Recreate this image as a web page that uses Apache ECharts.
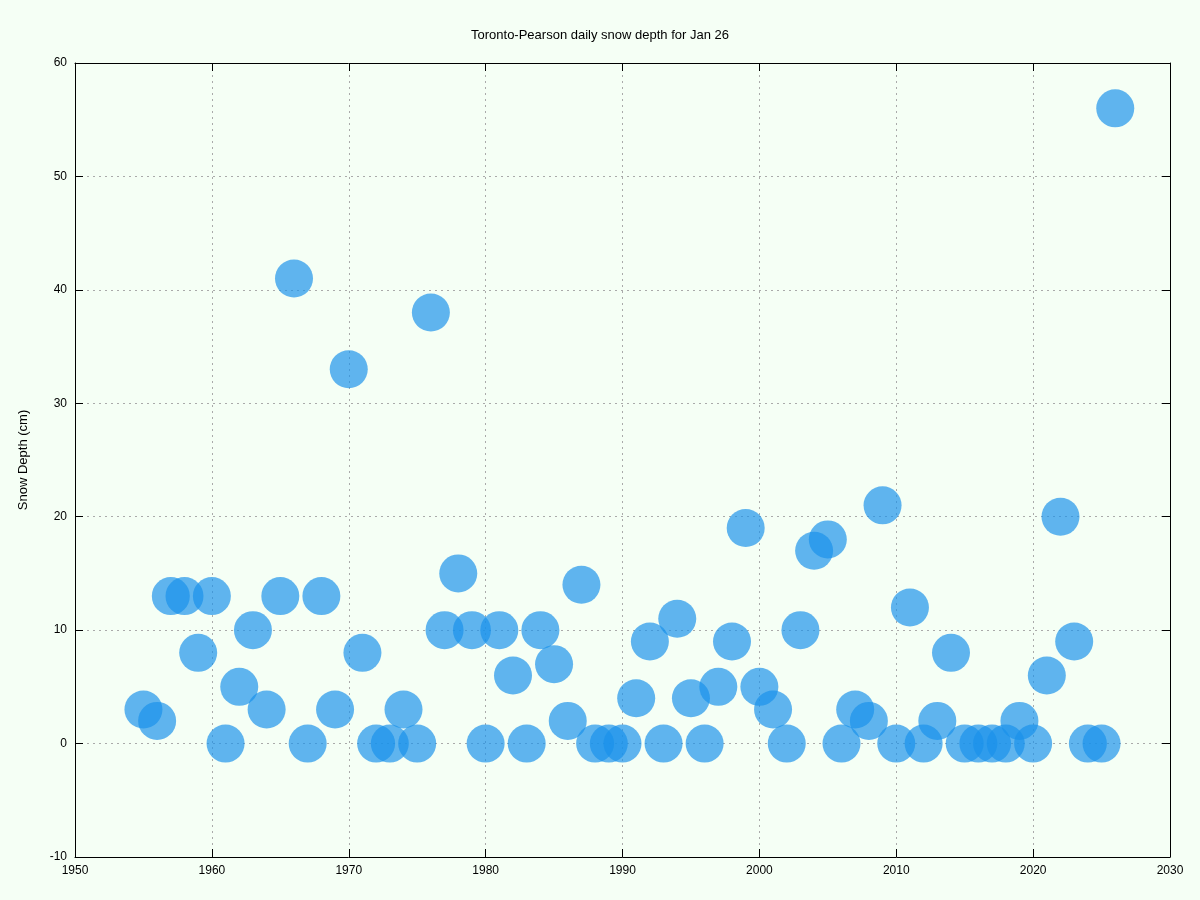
<!DOCTYPE html>
<html>
<head>
<meta charset="utf-8">
<script src="https://cdn.jsdelivr.net/npm/echarts@6/dist/echarts.min.js"></script>
<style>html,body{margin:0;padding:0;background:#f5fff5}#chart{width:1200px;height:900px}</style>
</head>
<body>
<div id="chart"></div>
<script>
var years = [1955,1956,1957,1958,1959,1960,1961,1962,1963,1964,1965,1966,1967,1968,1969,1970,
	1971,1972,1973,1974,1975,1976,1977,1978,1979,1980,1981,1982,1983,1984,1985,1986,1987,1988,
	1989,1990,1991,1992,1993,1994,1995,1996,1997,1998,1999,2000,2001,2002,2003,2004,2005,2006,
	2007,2008,2009,2010,2011,2012,2013,2014,2015,2016,2017,2018,2019,2020,2021,2022,2023,2024,
	2025,2026];
var depth = [3,2,13,13,8,13,0,5,10,3,13,41,0,13,3,33,
	8,0,0,3,0,38,10,15,10,0,10,6,0,10,7,2,14,0,
	0,0,4,9,0,11,4,0,5,9,19,5,3,0,10,17,18,0,
	3,2,21,0,12,0,2,8,0,0,0,0,2,0,6,20,9,0,
	0,56];

var myChart = echarts.init(document.getElementById('chart'));
function axis(extra, labels) {
	return Object.assign({
		type: 'value',
		axisLine: { show: true, onZero: false, lineStyle: { color: '#000' } },
		axisTick: { show: true, inside: true, length: 8, lineStyle: { color: '#000' } },
		axisLabel: {
			show: labels, color: '#000', fontSize: 12, fontFamily: 'Liberation Sans',
			formatter: function (v) { return String(v); }
		},
		splitLine: { show: labels, lineStyle: { color: '#aaa', type: [2, 4] } }
	}, extra);
}
myChart.setOption({
	backgroundColor: '#f5fff5',
	animation: false,
	title: {
		text: 'Toronto-Pearson daily snow depth for Jan 26',
		left: 'center', top: 24,
		textStyle: { fontSize: 13, fontWeight: 'normal', color: '#000', fontFamily: 'Liberation Sans' }
	},
	grid: { left: 75, right: 30, top: 63, bottom: 43 },
	xAxis: [
		axis({ min: 1950, max: 2030, interval: 10 }, true),
		axis({ min: 1950, max: 2030, interval: 10, position: 'top' }, false)
	],
	yAxis: [
		axis({
			min: -10, max: 60, interval: 10,
			name: 'Snow Depth (cm)', nameLocation: 'middle', nameGap: 45,
			nameTextStyle: { color: '#000', fontSize: 13, fontFamily: 'Liberation Sans' }
		}, true),
		axis({ min: -10, max: 60, interval: 10, position: 'right' }, false)
	],
	series: [{
		type: 'scatter',
		symbolSize: 38,
		itemStyle: { color: 'rgba(25,145,235,0.85)' },
		data: years.map(function (y, i) { return [y, depth[i]]; })
	}]
});
</script>
</body>
</html>
